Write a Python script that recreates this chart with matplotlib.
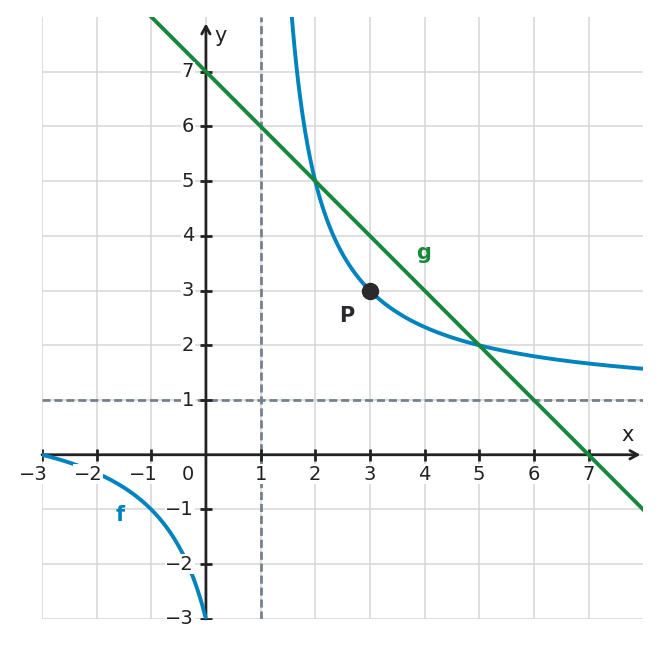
import numpy as np
import matplotlib.pyplot as plt

# f(x) = k / (x - a) + b: asymptotes x=1, y=1, P=(3,3)
f_a = 1
f_b = 1
f_k = 4
# g(x) = m*x + c
g_m = -1
g_c = 7
P = (3, 3)

ticks = [-3, -2, -1, 1, 2, 3, 4, 5, 6, 7]
grid_vals = [-3, -2, -1, 0, 1, 2, 3, 4, 5, 6, 7]

blue = '#0083bf'
green = '#17873b'
dark = '#222222'
dash_col = '#75828d'

fig = plt.figure(figsize=(6.61, 6.48), dpi=100)
ax = fig.add_axes([0.0635, 0.0448, 0.9095, 0.9292])
ax.set_xlim(-3, 8)
ax.set_ylim(-3, 8)
ax.axis('off')

# grid
for v in grid_vals:
    ax.axvline(v, color='#d6d6d6', lw=1.1, zorder=0)
    ax.axhline(v, color='#d6d6d6', lw=1.1, zorder=0)

# asymptotes
ax.axvline(f_a, color=dash_col, lw=2, ls=(0, (2.9, 1.4)), zorder=1)
ax.axhline(f_b, color=dash_col, lw=2, ls=(0, (2.9, 1.4)), zorder=1)

# axes with arrows
ax.annotate('', xy=(7.95, 0), xytext=(-3, 0),
            arrowprops=dict(arrowstyle='->,head_length=0.55,head_width=0.3',
                            color=dark, lw=2, shrinkA=0, shrinkB=0), zorder=3)
ax.annotate('', xy=(0, 7.88), xytext=(0, -3),
            arrowprops=dict(arrowstyle='->,head_length=0.55,head_width=0.3',
                            color=dark, lw=2, shrinkA=0, shrinkB=0), zorder=3)
ax.plot(ticks, [0] * len(ticks), ls='none', marker='|', ms=8, mew=2, color=dark, zorder=3)
ax.plot([0] * len(ticks), ticks, ls='none', marker='_', ms=8, mew=2, color=dark, zorder=3)

# curves
x_right = np.linspace(f_a + f_k / 7.2, 8, 400)
x_left = np.linspace(-3, 0, 200)
ax.plot(x_right, f_k / (x_right - f_a) + f_b, color=blue, lw=2.8, zorder=4)
ax.plot(x_left, f_k / (x_left - f_a) + f_b, color=blue, lw=2.8, zorder=4)
xg = np.array([-3, 8])
ax.plot(xg, g_m * xg + g_c, color=green, lw=2.8, zorder=4)
ax.plot(*P, 'o', ms=11.5, color='#2a2a2e', zorder=5)

# tick labels
fs = 14
box = dict(boxstyle='square,pad=0.03', fc='white', ec='none')
for t in ticks:
    lab = '\u2212%d' % -t if t < 0 else str(t)
    ax.annotate(lab, (t, 0), xytext=(0.318 * fs, -14), textcoords='offset points',
                ha='right', va='center', fontsize=fs, color=dark, bbox=box, zorder=6)
    ax.annotate(lab, (0, t), xytext=(-8.5, 0), textcoords='offset points',
                ha='right', va='center', fontsize=fs, color=dark, bbox=box, zorder=6)
ax.annotate('0', (0, 0), xytext=(-13, -14), textcoords='offset points',
            ha='center', va='center', fontsize=fs, color=dark, bbox=box, zorder=6)

ax.text(7.71, 0.37, 'x', fontsize=15, color=dark, ha='center', va='center')
ax.text(0.27, 7.65, 'y', fontsize=15, color=dark, ha='center', va='center')

ax.text(-1.57, -1.1, 'f', fontsize=15, fontweight='bold', color=blue, ha='center', va='center')
ax.text(3.98, 3.69, 'g', fontsize=15, fontweight='bold', color=green, ha='center', va='center')
ax.text(2.58, 2.54, 'P', fontsize=15, fontweight='bold', color='#2a2a2e', ha='center', va='center')

fig.savefig('out.png', dpi=100)
